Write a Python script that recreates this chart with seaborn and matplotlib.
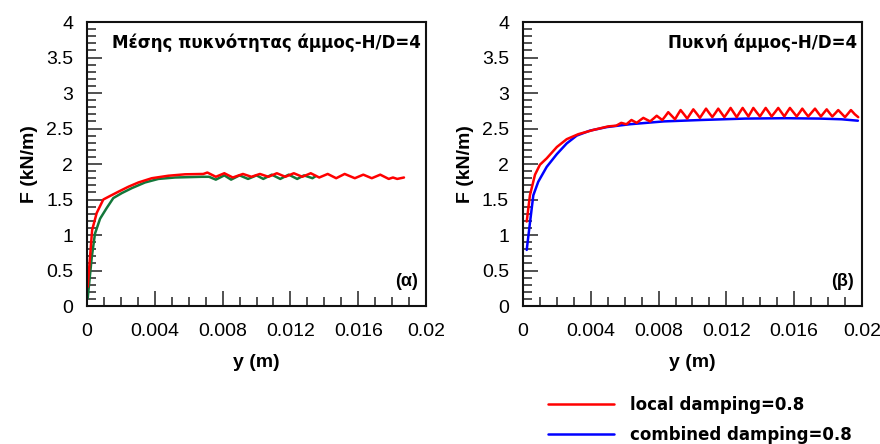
import numpy as np
import pandas as pd
import seaborn as sns
import matplotlib.pyplot as plt
from matplotlib.ticker import MultipleLocator, FormatStrFormatter

# values
# (α) medium-dense sand, local damping (red)
a_local_y = [0.00004, 0.0003, 0.00057, 0.00096, 0.00136, 0.00185, 0.00244, 0.00303, 0.00382,
             0.0048, 0.00578, 0.00686, 0.0071, 0.00735, 0.0076, 0.00785, 0.0081, 0.00835,
             0.0086, 0.0089, 0.0092, 0.00945, 0.0097, 0.00995, 0.0102, 0.01045, 0.0107,
             0.01095, 0.0112, 0.01145, 0.0117, 0.01195, 0.0122, 0.01245, 0.0127, 0.01295,
             0.0132, 0.01345, 0.0137, 0.01395, 0.0142, 0.01445, 0.0147, 0.01495, 0.0152,
             0.0155, 0.0158, 0.01605, 0.0163, 0.01655, 0.0168, 0.01705, 0.0173, 0.01755,
             0.0178, 0.01805, 0.0183, 0.0187]
a_local_F = [0.27, 1.07, 1.31, 1.50, 1.55, 1.61, 1.68, 1.74, 1.80,
             1.835, 1.855, 1.86, 1.88, 1.85, 1.82, 1.845, 1.87, 1.84,
             1.81, 1.835, 1.86, 1.84, 1.82, 1.84, 1.86, 1.84, 1.82,
             1.845, 1.87, 1.845, 1.82, 1.845, 1.87, 1.845, 1.82, 1.845,
             1.87, 1.84, 1.81, 1.835, 1.86, 1.83, 1.80, 1.83, 1.86,
             1.83, 1.80, 1.825, 1.85, 1.825, 1.80, 1.825, 1.85, 1.82,
             1.79, 1.81, 1.79, 1.81]

# (α) medium-dense sand, green curve
a_green_y = [0.00004, 0.00028, 0.00047, 0.00077, 0.00116, 0.00155, 0.00205, 0.00264, 0.00342,
             0.00421, 0.00519, 0.00677, 0.0072, 0.0074, 0.0076, 0.00785, 0.0081, 0.0083,
             0.0085, 0.00875, 0.0090, 0.00925, 0.0095, 0.00975, 0.0100, 0.0102, 0.0104,
             0.01065, 0.0109, 0.01115, 0.0114, 0.01165, 0.0119, 0.01215, 0.0124, 0.0126,
             0.0128, 0.01305, 0.0133, 0.0135]
a_green_F = [0.11, 0.69, 1.02, 1.23, 1.38, 1.52, 1.59, 1.66, 1.74,
             1.79, 1.81, 1.82, 1.82, 1.80, 1.78, 1.81, 1.84, 1.81,
             1.78, 1.81, 1.84, 1.815, 1.79, 1.815, 1.84, 1.815, 1.79,
             1.82, 1.85, 1.82, 1.79, 1.82, 1.85, 1.82, 1.79, 1.815,
             1.84, 1.82, 1.80, 1.83]

# (β) dense sand, local damping (red)
b_local_y = [0.00022, 0.00041, 0.00071, 0.001, 0.0014, 0.002, 0.00258, 0.00326, 0.00415,
             0.00503, 0.0055, 0.0058, 0.0061, 0.0064, 0.00655, 0.00671, 0.0069, 0.0071, 0.0073,
             0.0075, 0.0077, 0.00789, 0.00805, 0.00822, 0.0084, 0.00857, 0.00877, 0.00897,
             0.00913, 0.0093, 0.0095, 0.00969, 0.00987, 0.01005, 0.01025, 0.01044, 0.01062,
             0.0108, 0.01098, 0.01117, 0.01135, 0.01152, 0.0117, 0.01188, 0.01207, 0.01225,
             0.01243, 0.01261, 0.01278, 0.01296, 0.01313, 0.0133, 0.01345, 0.01359, 0.01378,
             0.01398, 0.01415, 0.01432, 0.0145, 0.01467, 0.01487, 0.01506, 0.01524, 0.01542,
             0.01558, 0.01575, 0.01595, 0.01615, 0.01632, 0.01648, 0.01665, 0.01683, 0.01703,
             0.01723, 0.0174, 0.01758, 0.01775, 0.01792, 0.01808, 0.01825, 0.01843, 0.0186,
             0.0188, 0.019, 0.01918, 0.01935, 0.01958, 0.01978]
b_local_F = [1.19, 1.56, 1.85, 1.99, 2.08, 2.24, 2.35, 2.42, 2.48,
             2.53, 2.54, 2.58, 2.56, 2.62, 2.60, 2.58, 2.615, 2.65, 2.625,
             2.60, 2.64, 2.68, 2.65, 2.62, 2.675, 2.73, 2.68, 2.63,
             2.695, 2.76, 2.70, 2.64, 2.705, 2.77, 2.71, 2.65, 2.715,
             2.78, 2.72, 2.66, 2.72, 2.78, 2.72, 2.66, 2.725, 2.79,
             2.725, 2.66, 2.725, 2.79, 2.73, 2.67, 2.73, 2.79, 2.73,
             2.67, 2.73, 2.79, 2.73, 2.67, 2.73, 2.79, 2.73, 2.67,
             2.73, 2.79, 2.73, 2.67, 2.725, 2.78, 2.725, 2.67, 2.725,
             2.78, 2.725, 2.67, 2.72, 2.77, 2.72, 2.67, 2.715, 2.76,
             2.71, 2.66, 2.71, 2.76, 2.70, 2.66]

# (β) dense sand, combined damping (blue)
b_comb_y = [0.00022, 0.00037, 0.00061, 0.0009, 0.0014, 0.002, 0.00258, 0.00317, 0.00395,
            0.00494, 0.0063, 0.0083, 0.0105, 0.0131, 0.0155, 0.0175, 0.0188, 0.01976]
b_comb_F = [0.79, 1.09, 1.56, 1.75, 1.96, 2.14, 2.29, 2.40, 2.47,
            2.52, 2.56, 2.60, 2.62, 2.64, 2.645, 2.64, 2.63, 2.61]

panel_titles = ['Μέσης πυκνότητας άμμος-H/D=4', 'Πυκνή άμμος-H/D=4']
panel_tags = ['(α)', '(β)']
legend_labels = ['local damping=0.8', 'combined damping=0.8']

RED = '#ff0000'
BLUE = '#0000ff'
GREEN = '#13773a'

sns.set_style('ticks')
plt.rcParams['font.family'] = ['Liberation Sans', 'DejaVu Sans']
plt.rcParams['text.color'] = 'black'
plt.rcParams['axes.labelcolor'] = 'black'
plt.rcParams['xtick.color'] = 'black'
plt.rcParams['ytick.color'] = 'black'

fig = plt.figure(figsize=(8.8, 4.44), dpi=100)
ax1 = fig.add_axes([0.0989, 0.3108, 0.3852, 0.6396])
ax2 = fig.add_axes([0.5943, 0.3108, 0.3852, 0.6396])

lw = 1.8
sns.lineplot(x=a_green_y, y=a_green_F, ax=ax1, color=GREEN, lw=lw, sort=False, estimator=None)
sns.lineplot(x=a_local_y, y=a_local_F, ax=ax1, color=RED, lw=lw, sort=False, estimator=None)
sns.lineplot(x=b_comb_y, y=b_comb_F, ax=ax2, color=BLUE, lw=lw, sort=False, estimator=None,
             label=legend_labels[1], legend=False)
sns.lineplot(x=b_local_y, y=b_local_F, ax=ax2, color=RED, lw=lw, sort=False, estimator=None,
             label=legend_labels[0], legend=False)

for ax, title, tag in zip([ax1, ax2], panel_titles, panel_tags):
    ax.set_xlim(0, 0.02)
    ax.set_ylim(0, 4)
    ax.xaxis.set_major_locator(MultipleLocator(0.004))
    ax.xaxis.set_minor_locator(MultipleLocator(0.001))
    ax.yaxis.set_major_locator(MultipleLocator(0.5))
    ax.yaxis.set_minor_locator(MultipleLocator(0.1))
    ax.xaxis.set_major_formatter(FormatStrFormatter('%g'))
    ax.yaxis.set_major_formatter(FormatStrFormatter('%g'))
    ax.tick_params(which='major', direction='in', length=10.5, width=1.1, labelsize=14,
                   color='#222222', labelcolor='black')
    ax.tick_params(which='minor', direction='in', length=6.5, width=1.1, color='#222222')
    ax.tick_params(axis='x', which='major', pad=12)
    ax.tick_params(axis='y', which='major', pad=10)
    for sp in ax.spines.values():
        sp.set_linewidth(1.5)
        sp.set_color('#111111')
    ax.set_xlabel('y (m)', fontsize=14, fontweight='bold', labelpad=10)
    ax.set_ylabel('F (kN/m)', fontsize=14, fontweight='bold', labelpad=6)
    ax.text(0.985, 0.926, title, transform=ax.transAxes, ha='right', va='center',
            fontsize=12, fontweight='bold', family='DejaVu Sans')
    ax.text(0.977, 0.085, tag, transform=ax.transAxes, ha='right', va='center',
            fontsize=13, fontweight='bold')

h, l = ax2.get_legend_handles_labels()
order = [l.index(legend_labels[0]), l.index(legend_labels[1])]
fig.legend([h[i] for i in order], [l[i] for i in order], loc='upper left',
           bbox_to_anchor=(0.6225, 0.108), frameon=False,
           prop={'size': 12, 'weight': 'bold', 'family': 'DejaVu Sans'},
           handlelength=3.95, handletextpad=0.96, labelspacing=0.72, borderpad=0, borderaxespad=0)

fig.savefig('out.png', dpi=100)
